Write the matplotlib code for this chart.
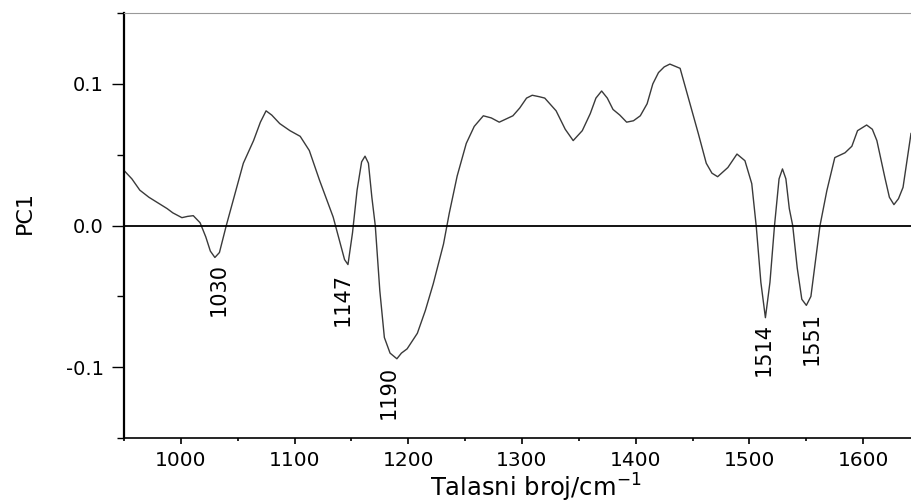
import numpy as np
import matplotlib
matplotlib.use('Agg')
import matplotlib.pyplot as plt
from matplotlib.ticker import MultipleLocator

# PC1 loading spectrum
wavenumber = [950, 957, 964, 972, 981, 988, 993, 1001, 1006, 1011, 1017, 1022, 1026, 1030,
              1034, 1040, 1046, 1055, 1064, 1070, 1075, 1080, 1087, 1096, 1105, 1113, 1122,
              1134, 1140, 1144, 1147, 1151, 1155, 1159, 1162, 1165, 1168, 1171, 1175, 1179,
              1184, 1190, 1194, 1199, 1208, 1215, 1222, 1231, 1236, 1243, 1251, 1258, 1266,
              1273, 1280, 1292, 1298, 1304, 1309, 1315, 1320, 1330, 1338, 1345, 1353, 1360,
              1365, 1370, 1375, 1380, 1386, 1392, 1398, 1404, 1410, 1415, 1420, 1425, 1430,
              1439, 1447, 1455, 1462, 1467, 1472, 1481, 1489, 1496, 1502, 1506, 1510, 1514,
              1518, 1522, 1526, 1529, 1532, 1535, 1538, 1542, 1546, 1550, 1554, 1558, 1562,
              1568, 1575, 1584, 1590, 1595, 1603, 1608, 1612, 1619, 1623, 1627, 1631, 1635, 1642]
pc1 = [0.039, 0.033, 0.025, 0.020, 0.0155, 0.012, 0.009, 0.0056, 0.0065, 0.007, 0.002, -0.008,
       -0.018, -0.0225, -0.019, 0.0, 0.0176, 0.044, 0.060, 0.073, 0.081, 0.078, 0.072, 0.067,
       0.063, 0.053, 0.032, 0.006, -0.012, -0.024, -0.0275, -0.005, 0.025, 0.045, 0.049, 0.044,
       0.020, 0.0, -0.046, -0.079, -0.090, -0.094, -0.090, -0.087, -0.076, -0.060, -0.041,
       -0.013, 0.0085, 0.035, 0.058, 0.070, 0.0775, 0.076, 0.073, 0.0775, 0.083, 0.090, 0.092,
       0.091, 0.090, 0.081, 0.068, 0.060, 0.067, 0.079, 0.090, 0.095, 0.090, 0.082, 0.078,
       0.073, 0.074, 0.0775, 0.086, 0.100, 0.108, 0.112, 0.114, 0.111, 0.088, 0.065, 0.044,
       0.037, 0.0345, 0.041, 0.0505, 0.0458, 0.0296, -0.001, -0.040, -0.065, -0.040, 0.0,
       0.033, 0.040, 0.033, 0.012, 0.0, -0.030, -0.052, -0.0563, -0.050, -0.025, 0.0, 0.0246,
       0.048, 0.0514, 0.056, 0.067, 0.071, 0.068, 0.060, 0.034, 0.020, 0.0148, 0.019, 0.027,
       0.065]

# labelled minima
peak_pos = [1030, 1147, 1190, 1514, 1550]
peak_labels = ['1030', '1147', '1190', '1514', '1551']
label_offsets = [(3, -4), (-4, -6), (-6, -5), (-1, -4), (4, -5)]  # points

fig = plt.figure(figsize=(9.11, 5.03), dpi=100)
ax = fig.add_axes([0.136, 0.129, 0.864, 0.845])

ax.plot(wavenumber, pc1, color='#3a3a3a', lw=1.0)
ax.axhline(0, color='black', lw=1.3)

for pos, lab, off in zip(peak_pos, peak_labels, label_offsets):
    yv = np.interp(pos, wavenumber, pc1)
    ax.annotate(lab, xy=(pos, yv), xytext=off, textcoords='offset points',
                rotation=90, ha='center', va='top', fontsize=15)

ax.set_xlim(950, 1642)
ax.set_ylim(-0.15, 0.15)
ax.xaxis.set_major_locator(MultipleLocator(100))
ax.xaxis.set_minor_locator(MultipleLocator(50))
ax.yaxis.set_major_locator(MultipleLocator(0.1))
ax.yaxis.set_minor_locator(MultipleLocator(0.05))
ax.set_yticks([-0.1, 0.0, 0.1])
ax.set_yticklabels(['-0.1', '0.0', '0.1'])

ax.tick_params(axis='x', which='major', direction='out', length=4, width=1.2,
               labelsize=14.5, pad=5)
ax.tick_params(axis='x', which='minor', direction='out', length=2.5, width=1.2)
ax.tick_params(axis='y', which='major', direction='out', length=8.5, width=1.0,
               labelsize=14, pad=6)
ax.tick_params(axis='y', which='minor', direction='out', length=5, width=1.0)

ax.spines['left'].set_linewidth(1.6)
ax.spines['bottom'].set_linewidth(1.2)
ax.spines['top'].set_color('#999999')
ax.spines['top'].set_linewidth(0.8)
ax.spines['right'].set_visible(False)

ax.set_ylabel('PC1', fontsize=16)
ax.yaxis.set_label_coords(-0.113, 0.53)
ax.set_xlabel('Talasni broj/cm$^{-1}$', fontsize=17.5)
ax.xaxis.set_label_coords(0.523, -0.08)

fig.savefig('out.png', dpi=100)
